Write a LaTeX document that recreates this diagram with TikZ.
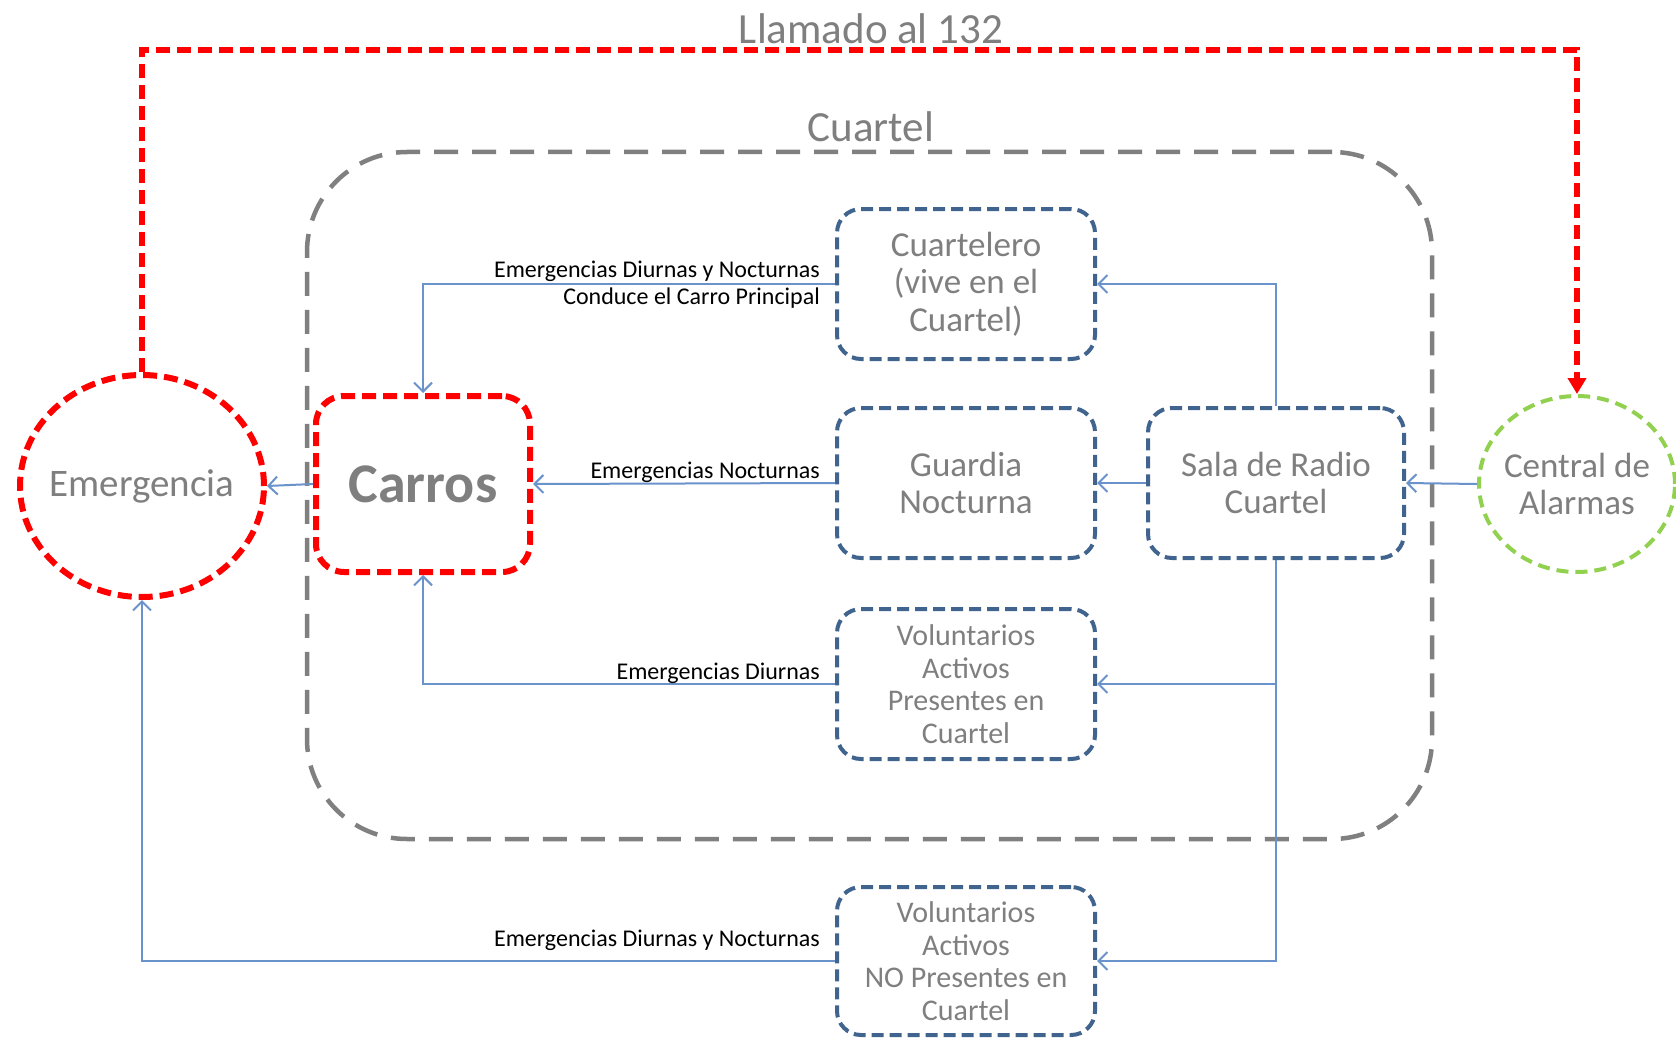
\documentclass[tikz,border=0pt]{standalone}
\usepackage{fontspec}
\setmainfont{Carlito}
\usetikzlibrary{shapes.geometric,arrows.meta}
\definecolor{redc}{HTML}{FF0000}
\definecolor{grayc}{HTML}{808080}
\definecolor{boxblue}{HTML}{41648F}
\definecolor{linkblue}{HTML}{6A93CC}
\definecolor{greenc}{HTML}{92D050}
\definecolor{txtgray}{HTML}{7F7F7F}
\begin{document}
\begin{tikzpicture}[x=1pt,y=-1pt,
  bluebox/.style={draw=boxblue, line width=4pt, dash pattern=on 12pt off 6pt, rounded corners=24pt,
    minimum width=258pt, minimum height=150pt, align=center, text=txtgray, inner sep=0pt,
    font=\fontsize{35}{37.5}\selectfont},
  volbox/.style={bluebox, font=\fontsize{30}{32.5}\selectfont},
  redbox/.style={draw=redc, line width=6pt, dash pattern=on 14pt off 7pt, rounded corners=28pt,
    minimum width=214pt, minimum height=176pt, text=txtgray, inner sep=0pt,
    font=\fontsize{56}{60}\selectfont\bfseries},
  redell/.style={ellipse, draw=redc, line width=6pt, dash pattern=on 14pt off 7pt,
    minimum width=244pt, minimum height=222pt, text=txtgray, inner xsep=-20pt, inner ysep=0pt,
    font=\fontsize{39}{42}\selectfont},
  greenell/.style={ellipse, draw=greenc, line width=4pt, dash pattern=on 12pt off 7pt,
    minimum width=196pt, minimum height=176pt, text=txtgray, inner xsep=-20pt, inner ysep=0pt, align=center,
    font=\fontsize{35}{37}\selectfont},
  cuartelbox/.style={draw=grayc, line width=4.5pt, dash pattern=on 24pt off 14pt, rounded corners=100pt,
    minimum width=1125pt, minimum height=687pt, inner sep=0pt},
  title/.style={text=txtgray, inner sep=0pt, font=\fontsize{43}{46}\selectfont},
  lbl/.style={text=black, inner sep=0pt, font=\fontsize{24}{26}\selectfont},
  link/.style={draw=linkblue, line width=2pt, -{Straight Barb[length=9pt,width=18pt,line width=2pt]}},
  calllink/.style={draw=redc, line width=6pt, dash pattern=on 14pt off 7pt, -{Triangle[length=16pt,width=18pt]}}
]
\fill[white] (0,0) rectangle (1676,1038);
\useasboundingbox (0,0) rectangle (1676,1038);

% titles
\node[title] (llamado) at (871,29) {Llamado al 132};
\node[title] (cuarteltitle) at (871,127) {Cuartel};

% Cuartel frame
\node[cuartelbox] (cuartel) at (869.5,495.5) {};

% nodes
\node[redell] (emerg) at (142,486) {Emergencia};
\node[redbox] (carros) at (423,484) {Carros};
\node[bluebox] (cuartelero) at (966,284) {Cuartelero\\(vive en el\\Cuartel)};
\node[bluebox] (guardia) at (966,483) {Guardia\\Nocturna};
\node[bluebox, minimum width=256pt] (sala) at (1276,483) {Sala de Radio\\Cuartel};
\node[volbox] (volp) at (966,684) {Voluntarios\\Activos\\Presentes en\\Cuartel};
\node[volbox, minimum height=148pt] (volnp) at (966,961) {Voluntarios\\Activos\\NO Presentes en\\Cuartel};
\node[greenell] (central) at (1577,484) {Central de\\Alarmas};

% call line
\coordinate (callL) at (142,50);
\coordinate (callR) at (1577,50);
\draw[calllink] (emerg.north) -- (callL) -- (callR) -- (central.north);

% connectors
\draw[link] (central.west) -- (sala.east);
\draw[link] (sala.west) -- (guardia.east);
\draw[link] (sala.north) |- (cuartelero.east);
\draw[link] (sala.south) |- (volnp.east);
\coordinate (branch) at (sala.south |- volp.east);
\draw[link] (branch) -- (volp.east);
\draw[link] (guardia.west) -- (carros.east);
\draw[link] (cuartelero.west) -| (carros.north);
\draw[link] (volp.west) -| (carros.south);
\draw[link] (carros.west) -- (emerg.east);
\draw[link] (volnp.west) -| (emerg.south);

% labels
\node[lbl, anchor=base east] (l1) at (820,277) {Emergencias Diurnas y Nocturnas};
\node[lbl, anchor=base east] (l2) at (820,304) {Conduce el Carro Principal};
\node[lbl, anchor=base east] (l3) at (820,478) {Emergencias Nocturnas};
\node[lbl, anchor=base east] (l4) at (820,679) {Emergencias Diurnas};
\node[lbl, anchor=base east] (l5) at (820,946) {Emergencias Diurnas y Nocturnas};
\end{tikzpicture}
\end{document}
